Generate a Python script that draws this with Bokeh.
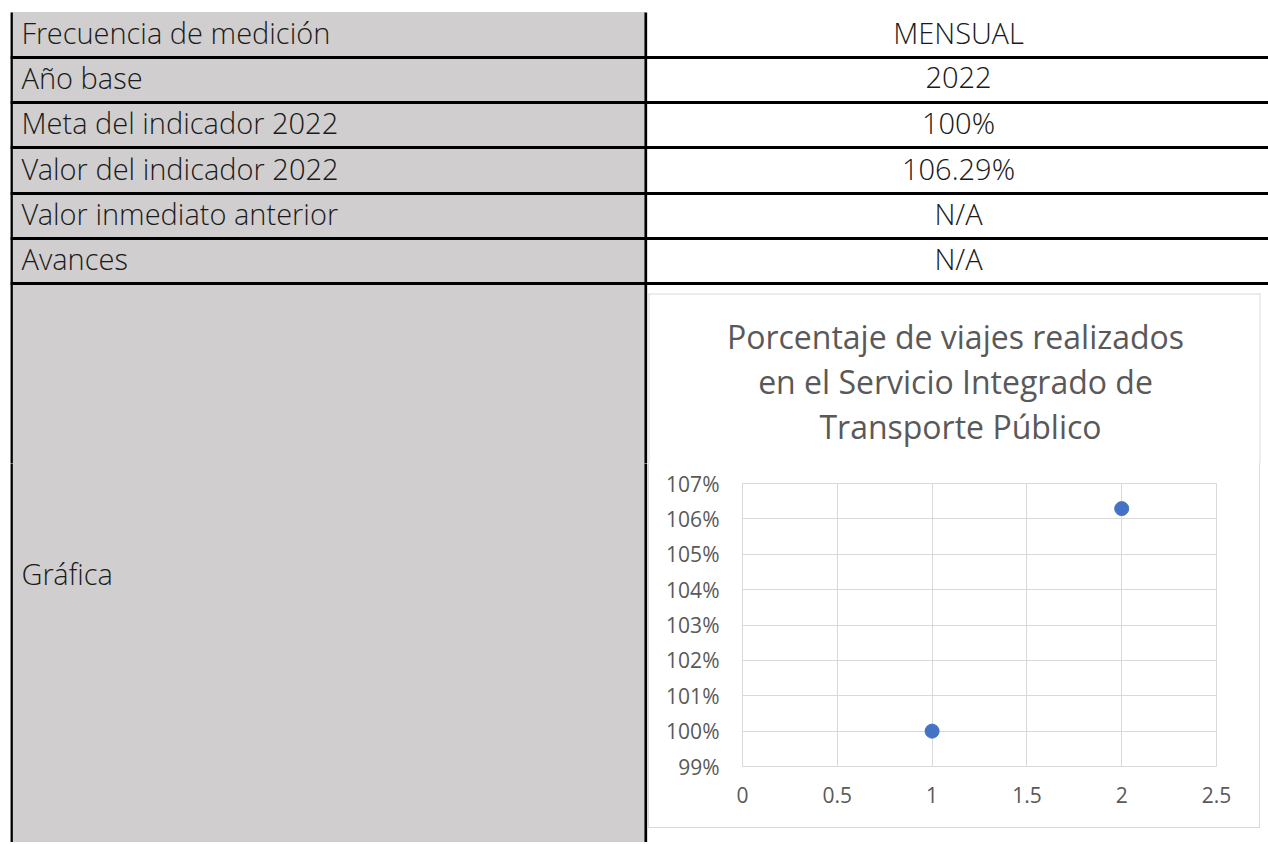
from bokeh.plotting import figure
from bokeh.models import Range1d, FixedTicker, CustomJSTickFormatter, ColumnDataSource, Spacer
from bokeh.layouts import column, row
from bokeh.core.properties import value
from bokeh.embed import file_html
from bokeh.resources import INLINE

# ---------------- data ----------------
row_labels = ["Frecuencia de medición", "Año base", "Meta del indicador 2022",
              "Valor del indicador 2022", "Valor inmediato anterior", "Avances"]
row_values = ["MENSUAL", "2022", "100%", "106.29%", "N/A", "N/A"]
chart_row_label = "Gráfica"
title_lines = ["Porcentaje de viajes realizados", "en el Servicio Integrado de",
               "Transporte Público"]
x_values = [1, 2]
y_values = [100, 106.29]
x_ticks = [0, 0.5, 1, 1.5, 2, 2.5]
y_ticks = [99, 100, 101, 102, 103, 104, 105, 106, 107]

# ---------------- layout constants (page pixels) ----------------
PAGE_W, PAGE_H = 1268, 842
SPLIT_X = 648          # boundary between gray column and chart cell
TABLE_L = 11.2
TABLE_T = 12
DIV_X = 645.3
row_lines = [57, 102, 147, 193, 238, 283]
row_tops = [TABLE_T] + row_lines[:-1]
GRAY = "#D0CECE"
BOX_COL = "#D9D9D9"
TABLE_FONT = value("Open Sans Light, Open Sans")
TABLE_FS = "29px"
TEXT_COL = "#1a1a1a"
CHART_FONT = "Open Sans, sans-serif"

BOX_L, BOX_R, BOX_T, BOX_B = 648, 1260, 293, 828
FR_L, FR_R, FR_T, FR_B = 742, 1216, 483, 766
SPLIT_Y = 463          # boundary between upper figure and chart figure
OVER = 3               # overdraw across the seam between figures


def blank(w, h, x0, x1, y0, y1):
    f = figure(width=w, height=h, x_range=Range1d(x0, x1), y_range=Range1d(y1, y0),
               x_axis_location=None, y_axis_location=None, toolbar_location=None,
               output_backend="svg", min_border=0)
    f.grid.visible = False
    f.outline_line_color = None
    f.background_fill_color = None
    f.border_fill_color = None
    return f


# ---------------- upper part: table rows + chart title ----------------
ft = blank(PAGE_W, SPLIT_Y, 0, PAGE_W, 0, SPLIT_Y)
ft.quad(left=[TABLE_L], right=[DIV_X], top=[TABLE_T], bottom=[SPLIT_Y + OVER],
        fill_color=GRAY, line_color=None)
ft.segment(x0=[TABLE_L], x1=[TABLE_L], y0=[TABLE_T], y1=[SPLIT_Y + OVER], line_color="black", line_width=2.3)
ft.segment(x0=[DIV_X], x1=[DIV_X], y0=[TABLE_T], y1=[SPLIT_Y + OVER], line_color="black", line_width=2.7)
ft.segment(x0=[TABLE_L - 1] * len(row_lines), x1=[PAGE_W] * len(row_lines),
           y0=row_lines, y1=row_lines, line_color="black", line_width=2.8)
centers = [(a + b) / 2 - 2.5 for a, b in zip(row_tops, row_lines)]
src = ColumnDataSource(dict(y=centers, lab=row_labels, val=row_values,
                            xl=[21] * len(row_labels), xr=[958] * len(row_labels)))
ft.text(x="xl", y="y", text="lab", source=src, text_font=TABLE_FONT, text_font_size=TABLE_FS,
        text_baseline="middle", text_align="left", text_color=TEXT_COL)
ft.text(x="xr", y="y", text="val", source=src, text_font=TABLE_FONT, text_font_size=TABLE_FS,
        text_baseline="middle", text_align="center", text_color=TEXT_COL)
# chart box (upper part) and title
ft.segment(x0=[BOX_L, BOX_L + 0.5, BOX_R - 0.5], x1=[BOX_R, BOX_L + 0.5, BOX_R - 0.5],
           y0=[BOX_T + 0.5, BOX_T, BOX_T], y1=[BOX_T + 0.5, SPLIT_Y + OVER, SPLIT_Y + OVER],
           line_color=BOX_COL, line_width=1)
ft.text(x=[955, 955, 960], y=[336, 381, 426], text=title_lines, text_font=value(CHART_FONT),
        text_font_size="32px", text_color="#595959", text_align="center",
        text_baseline="middle")

# ---------------- bottom-left gray cell ----------------
fl = blank(SPLIT_X, PAGE_H - SPLIT_Y, 0, SPLIT_X, SPLIT_Y, PAGE_H)
fl.quad(left=[TABLE_L], right=[DIV_X], top=[SPLIT_Y - OVER], bottom=[PAGE_H],
        fill_color=GRAY, line_color=None)
fl.segment(x0=[TABLE_L], x1=[TABLE_L], y0=[SPLIT_Y - OVER], y1=[PAGE_H], line_color="black", line_width=2.3)
fl.segment(x0=[DIV_X], x1=[DIV_X], y0=[SPLIT_Y - OVER], y1=[PAGE_H], line_color="black", line_width=2.7)
fl.text(x=[21], y=[573], text=[chart_row_label], text_font=TABLE_FONT, text_font_size=TABLE_FS,
        text_baseline="middle", text_align="left", text_color=TEXT_COL)

# ---------------- chart ----------------
fc = figure(width=BOX_R - BOX_L, height=BOX_B - SPLIT_Y,
            x_range=Range1d(x_ticks[0], x_ticks[-1]), y_range=Range1d(y_ticks[0], y_ticks[-1]),
            toolbar_location=None, output_backend="svg",
            min_border_left=FR_L - BOX_L, min_border_right=BOX_R - FR_R,
            min_border_top=FR_T - SPLIT_Y, min_border_bottom=BOX_B - FR_B,
            styles={"box-shadow": f"inset 1px 0 0 {BOX_COL}, inset -1px 0 0 {BOX_COL}, "
                                  f"inset 0 -1px 0 {BOX_COL}"})
fc.outline_line_color = BOX_COL
fc.outline_line_width = 1
fc.background_fill_color = "white"
fc.border_fill_color = None
fc.xaxis.ticker = FixedTicker(ticks=x_ticks)
fc.yaxis.ticker = FixedTicker(ticks=y_ticks)
fc.xgrid.ticker = FixedTicker(ticks=x_ticks)
fc.ygrid.ticker = FixedTicker(ticks=y_ticks)
fc.grid.grid_line_color = BOX_COL
fc.grid.grid_line_width = 1
fc.xaxis.formatter = CustomJSTickFormatter(code="return tick.toString()")
fc.yaxis.formatter = CustomJSTickFormatter(code="return Math.round(tick) + '%'")
for ax in (fc.xaxis, fc.yaxis):
    ax.axis_line_color = None
    ax.major_tick_line_color = None
    ax.minor_tick_line_color = None
    ax.major_tick_out = 0
    ax.major_tick_in = 0
    ax.major_label_text_font = CHART_FONT
    ax.major_label_text_font_size = "21px"
    ax.major_label_text_color = "#595959"
fc.xaxis.major_label_standoff = 20
fc.yaxis.major_label_standoff = 23

fc.scatter(x=x_values, y=y_values, size=14, fill_color="#4472C4", line_color="#4472C4")

right_cell = column(
    row(fc, Spacer(width=PAGE_W - BOX_R, height=BOX_B - SPLIT_Y), spacing=0),
    Spacer(width=PAGE_W - SPLIT_X, height=PAGE_H - BOX_B),
    spacing=0)

# page background behind the transparent figures: gray column below the table top,
# so that no seam between stacked figures shows through as a white line
page_bg = (f"linear-gradient(to bottom, #ffffff 0px, #ffffff {TABLE_T}px, rgba(255,255,255,0) {TABLE_T}px), "
           f"linear-gradient(to right, #ffffff 0px, #ffffff {TABLE_L:.0f}px, {GRAY} {TABLE_L:.0f}px, "
           f"{GRAY} {DIV_X:.0f}px, #ffffff {DIV_X:.0f}px)")
layout = column(ft, row(fl, right_cell, spacing=0), spacing=0, styles={"background": page_bg})
open("out.html", "w").write(file_html(layout, INLINE))
